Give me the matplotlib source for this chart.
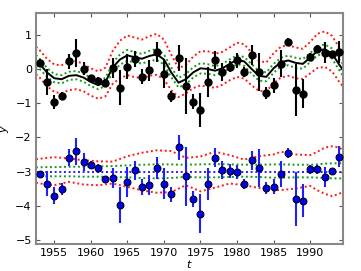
import matplotlib
matplotlib.use("Agg")
import matplotlib.pyplot as plt
import numpy as np

# ---- data ----
years = list(range(1953, 1995))
y_obs = [0.17, -0.37, -0.96, -0.79, 0.23, 0.46, 0.01, -0.27, -0.34, -0.40,
         0.03, -0.55, 0.07, 0.30, -0.23, -0.04, 0.50, -0.15, -0.80, 0.31,
         -0.51, -0.96, -1.20, -0.38, 0.27, -0.09, 0.07, 0.25, -0.09, 0.40,
         -0.09, -0.71, -0.48, 0.16, 0.79, -0.62, -0.72, 0.35, 0.59, 0.48,
         0.43, 0.50]
y_err = [0.12, 0.38, 0.20, 0.12, 0.22, 0.41, 0.20, 0.10, 0.10, 0.10,
         0.30, 0.51, 0.36, 0.24, 0.22, 0.30, 0.30, 0.40, 0.17, 0.38,
         0.82, 0.22, 0.49, 0.44, 0.27, 0.27, 0.17, 0.22, 0.15, 0.29,
         0.56, 0.17, 0.22, 0.39, 0.12, 0.76, 0.43, 0.12, 0.12, 0.30,
         0.08, 0.32]
resid = [-3.07, -3.36, -3.71, -3.51, -2.59, -2.41, -2.72, -2.81, -2.91, -3.23,
         -3.19, -3.98, -3.31, -2.96, -3.46, -3.40, -2.90, -3.36, -3.66, -2.29,
         -3.14, -3.81, -4.23, -3.37, -2.59, -2.96, -2.98, -3.02, -3.37, -2.67,
         -2.89, -3.49, -3.44, -3.06, -2.46, -3.80, -3.85, -2.93, -2.93, -3.15,
         -2.99, -2.56]
resid_err = [0.10, 0.37, 0.25, 0.17, 0.24, 0.40, 0.26, 0.12, 0.12, 0.10,
             0.30, 0.53, 0.43, 0.28, 0.24, 0.29, 0.33, 0.45, 0.22, 0.36,
             0.87, 0.24, 0.56, 0.46, 0.29, 0.27, 0.20, 0.20, 0.15, 0.28,
             0.56, 0.18, 0.22, 0.38, 0.15, 0.78, 0.49, 0.13, 0.13, 0.29,
             0.08, 0.31]

# GP mean curve and band half-widths (upper panel)
curve_t = [1952.5] + list(range(1953, 1995)) + [1994.5]
curve_mean = [0.25, 0.15, -0.10, -0.27, -0.30, -0.20, -0.18, -0.25, -0.38, -0.47,
              -0.38, 0.05, 0.28, 0.40, 0.34, 0.30, 0.38, 0.43, 0.28, -0.10,
              -0.40, -0.30, -0.10, 0.02, 0.00, -0.05, 0.02, 0.15, 0.27, 0.22,
              0.00, -0.20, -0.23, 0.02, 0.20, 0.25, 0.18, 0.15, 0.33, 0.53,
              0.58, 0.45, 0.12, -0.03]
green_hw = [0.16, 0.15, 0.13, 0.12, 0.12, 0.12, 0.12, 0.12, 0.12, 0.12,
            0.12, 0.13, 0.15, 0.16, 0.15, 0.14, 0.15, 0.16, 0.15, 0.14,
            0.14, 0.15, 0.15, 0.15, 0.14, 0.13, 0.13, 0.13, 0.13, 0.13,
            0.14, 0.14, 0.13, 0.13, 0.13, 0.14, 0.15, 0.14, 0.13, 0.13,
            0.14, 0.15, 0.16, 0.17]
red_hw = [0.40, 0.40, 0.40, 0.40, 0.41, 0.42, 0.41, 0.40, 0.40, 0.40,
          0.42, 0.48, 0.55, 0.58, 0.58, 0.56, 0.58, 0.60, 0.58, 0.52,
          0.42, 0.42, 0.46, 0.50, 0.52, 0.50, 0.48, 0.48, 0.50, 0.50,
          0.48, 0.44, 0.42, 0.44, 0.45, 0.45, 0.45, 0.44, 0.46, 0.50,
          0.52, 0.52, 0.50, 0.48]

# lower panel bands
band_t = [1952.5, 1954, 1955, 1957, 1959, 1961, 1963, 1965, 1967, 1969, 1971,
          1972, 1973, 1975, 1977, 1979, 1981, 1983, 1985, 1986, 1988, 1990,
          1991, 1992, 1993, 1994, 1994.5]
red_up = [-2.64, -2.60, -2.58, -2.62, -2.67, -2.70, -2.71, -2.55, -2.45, -2.38,
          -2.40, -2.50, -2.60, -2.56, -2.42, -2.52, -2.65, -2.55, -2.50, -2.42,
          -2.50, -2.52, -2.42, -2.30, -2.26, -2.30, -2.38]
red_lo = [-3.33, -3.38, -3.40, -3.30, -3.38, -3.40, -3.35, -3.45, -3.55, -3.62,
          -3.60, -3.50, -3.40, -3.58, -3.47, -3.35, -3.40, -3.48, -3.55, -3.54,
          -3.50, -3.42, -3.55, -3.65, -3.72, -3.65, -3.58]
green_up = [-2.88, -2.87, -2.87, -2.86, -2.86, -2.85, -2.84, -2.82, -2.80, -2.79,
            -2.79, -2.80, -2.80, -2.79, -2.78, -2.79, -2.80, -2.80, -2.79, -2.79,
            -2.80, -2.80, -2.79, -2.77, -2.76, -2.76, -2.76]
green_lo = [-3.13, -3.14, -3.14, -3.14, -3.15, -3.15, -3.16, -3.17, -3.19, -3.20,
            -3.19, -3.17, -3.16, -3.17, -3.17, -3.16, -3.15, -3.16, -3.18, -3.18,
            -3.17, -3.17, -3.18, -3.19, -3.20, -3.20, -3.20]
zero_line = -3.0

x_ticks = [1955, 1960, 1965, 1970, 1975, 1980, 1985, 1990]
y_ticks = [1, 0, -1, -2, -3, -4, -5]

# ---- plot ----
fig = plt.figure(figsize=(3.61, 2.71), dpi=100)
ax = fig.add_axes([0.0997, 0.0996, 0.8505, 0.8514])

cm = np.array(curve_mean)
gh = np.array(green_hw)
rh = np.array(red_hw)
ls_dot = (0, (1, 1.4))
red = '#ff1a1a'
green = '#1a9a1a'
lwd = 1.4
ax.plot(curve_t, cm + rh, color=red, ls=ls_dot, lw=lwd)
ax.plot(curve_t, cm - rh, color=red, ls=ls_dot, lw=lwd)
ax.plot(curve_t, cm + gh, color=green, ls=ls_dot, lw=lwd)
ax.plot(curve_t, cm - gh, color=green, ls=ls_dot, lw=lwd)
ax.plot(curve_t, cm, color='black', lw=1.4)

ax.plot(band_t, red_up, color=red, ls=ls_dot, lw=lwd)
ax.plot(band_t, red_lo, color=red, ls=ls_dot, lw=lwd)
ax.plot(band_t, green_up, color=green, ls=ls_dot, lw=lwd)
ax.plot(band_t, green_lo, color=green, ls=ls_dot, lw=lwd)
ax.plot([band_t[0], band_t[-1]], [zero_line, zero_line], color='#2020ff', ls=ls_dot, lw=lwd)

ax.errorbar(years, y_obs, yerr=y_err, fmt='o', color='black', ms=5,
            elinewidth=1.5, capsize=0, zorder=5)
ax.errorbar(years, resid, yerr=resid_err, fmt='o', mfc='#0000ee', mec='black',
            ecolor='#2020ff', ms=5, mew=0.7, elinewidth=1.5, capsize=0, zorder=5)

ax.set_xlim(1952.5, 1994.5)
ax.set_ylim(-5.12, 1.63)
ax.set_xticks(x_ticks)
ax.set_yticks(y_ticks)
ax.tick_params(direction='in', top=True, right=True, length=3, width=0.8,
               color='#555555', labelsize=8, pad=3)
for s in ax.spines.values():
    s.set_color('#888888')
    s.set_linewidth(1.5)
ax.set_xlabel('$t$', fontsize=8, labelpad=0)
ax.set_ylabel('$y$', fontsize=8, labelpad=3)

fig.savefig('out.png', dpi=100)
